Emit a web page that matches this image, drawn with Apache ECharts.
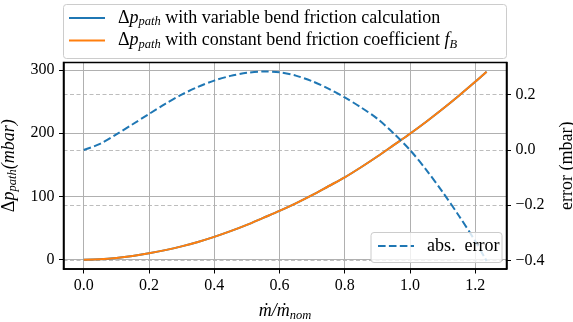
<!DOCTYPE html>
<html><head><meta charset="utf-8">
<script src="https://cdn.jsdelivr.net/npm/echarts@6/dist/echarts.min.js"></script>
<style>html,body{margin:0;padding:0;background:#fff}#c{width:573px;height:322px}</style>
</head><body><div id="c"></div>
<script>
// relative mass flow m/m_nom
const massFlowRatio = [0, 0.05, 0.1, 0.15, 0.2, 0.25, 0.3, 0.35, 0.4, 0.45, 0.5, 0.55, 0.6, 0.65, 0.7, 0.75, 0.8, 0.85, 0.9, 0.95, 1.0, 1.05, 1.1, 1.15, 1.2, 1.235];
// pressure drop with variable bend friction calculation (mbar)
const dpVariable = [0, 0.7, 2.7, 5.8, 10, 15, 21, 28, 36, 45, 55, 66, 77, 89, 102, 116, 130, 146, 163, 181, 199, 218, 238, 259, 281, 297];
// pressure drop with constant bend friction coefficient (mbar)
const dpConstant = [0, 0.7, 2.7, 5.8, 10, 15, 21, 28, 36, 45, 55, 66, 77, 89, 102, 116, 130, 146, 163, 181, 199, 218, 238, 259, 281, 297];
// absolute error (mbar)
const absError = [0.0, 0.022, 0.056, 0.093, 0.13, 0.167, 0.2, 0.228, 0.251, 0.268, 0.279, 0.284, 0.281, 0.269, 0.249, 0.222, 0.19, 0.154, 0.113, 0.06, 0.0, -0.072, -0.152, -0.238, -0.33, -0.402];

const seriesNames = ['dp_var', 'dp_const', 'abs. error'];

const F = 'Liberation Serif';
const rich = {
  n: {fontFamily: F, fontSize: 18, color: '#000', lineHeight: 21},
  d: {fontFamily: F, fontSize: 18, color: '#000', lineHeight: 21},
  i: {fontFamily: F, fontSize: 18, color: '#000', fontStyle: 'italic', lineHeight: 21},
  s: {fontFamily: F, fontSize: 12.5, color: '#000', fontStyle: 'italic', lineHeight: 13, verticalAlign: 'bottom'}
};
const zip = (xs, ys) => xs.map((x, k) => [x, ys[k]]);
const minusFmt = v => (v < 0 ? '\u2212' : '') + Math.abs(v).toFixed(1);

const GL = 63.5, GT = 62.5, GR = 66.5, GB = 53, W = 573, H = 322;

const chart = echarts.init(document.getElementById('c'), null, {renderer: 'canvas'});
chart.setOption({
  animation: false,
  backgroundColor: '#fff',
  grid: {left: GL, right: GR, top: GT, bottom: GB, show: false, containLabel: false, outerBoundsMode: 'none'},
  graphic: [
    {type: 'rect', z: 5, shape: {x: 63.5, y: 4.5, width: 443, height: 54, r: 3}, style: {fill: 'rgba(255,255,255,0.8)', stroke: '#cccccc', lineWidth: 1}},
    {type: 'rect', z: 5, shape: {x: 371, y: 232.5, width: 131, height: 30, r: 3}, style: {fill: 'rgba(255,255,255,0.8)', stroke: '#cccccc', lineWidth: 1}},
    {type: 'rect', z: 6, silent: true, shape: {x: GL, y: GT, width: W - GL - GR, height: H - GT - GB}, style: {fill: 'none', stroke: '#000', lineWidth: 1.5}}
  ],
  legend: [
    {
      data: [seriesNames[0], seriesNames[1]], orient: 'vertical', left: 68, top: 9, padding: 0,
      itemWidth: 36, itemHeight: 14, itemGap: 3, z: 10,
      itemStyle: {opacity: 0},
      formatter: name => name === seriesNames[0]
        ? '{d|\u0394}{i|p}{s|path}{n| with variable bend friction calculation}'
        : '{d|\u0394}{i|p}{s|path}{n| with constant bend friction coefficient }{i|f}{s|B}',
      textStyle: {rich: rich, padding: [0, 0, 0, 8]}
    },
    {
      data: [seriesNames[2]], orient: 'vertical', left: 377, top: 237, padding: 0,
      itemWidth: 36, itemHeight: 14, z: 10,
      itemStyle: {opacity: 0},
      formatter: () => '{n|abs.  error}',
      textStyle: {rich: rich, padding: [0, 0, 0, 8]}
    }
  ],
  xAxis: {
    type: 'value', min: -0.062, max: 1.296, splitNumber: 7,
    axisLine: {show: true, onZero: false, lineStyle: {color: '#000', width: 1.5}},
    axisTick: {show: true, length: 4.5, lineStyle: {color: '#000', width: 1}},
    axisLabel: {showMinLabel: false, showMaxLabel: false, formatter: v => v.toFixed(1), fontFamily: F, fontSize: 16, color: '#000', margin: 9},
    splitLine: {show: true, lineStyle: {color: '#b0b0b0', width: 1}},
    name: '{i|\u1E41/\u1E41}{s|nom}', nameLocation: 'middle', nameGap: 32,
    nameTextStyle: {rich: rich}
  },
  yAxis: [
    {
      type: 'value', position: 'left', min: -14.8, max: 311.6, splitNumber: 3,
      axisLine: {show: true, onZero: false, lineStyle: {color: '#000', width: 1.5}},
      axisTick: {show: true, length: 4.5, lineStyle: {color: '#000', width: 1}},
      axisLabel: {showMinLabel: false, showMaxLabel: false, fontFamily: F, fontSize: 16, color: '#000', margin: 9},
      splitLine: {show: true, lineStyle: {color: '#b0b0b0', width: 1}},
      name: '{d|\u0394}{i|p}{s|path}{i|(mbar)}', nameLocation: 'middle', nameRotate: 90, nameGap: 36,
      nameTextStyle: {rich: rich}
    },
    {
      type: 'value', position: 'right', min: -0.431, max: 0.3165, splitNumber: 4,
      axisLine: {show: true, onZero: false, lineStyle: {color: '#000', width: 1.5}},
      axisTick: {show: true, length: 4.5, lineStyle: {color: '#000', width: 1}},
      axisLabel: {showMinLabel: false, showMaxLabel: false, formatter: minusFmt, fontFamily: F, fontSize: 16, color: '#000', margin: 9},
      splitLine: {show: true, lineStyle: {color: '#bdbdbd', width: 1, type: [4, 2.5]}},
      name: 'error (mbar)', nameLocation: 'middle', nameRotate: 90, nameGap: 52,
      nameTextStyle: {fontFamily: F, fontSize: 18, color: '#000'}
    }
  ],
  series: [
    {name: seriesNames[0], type: 'line', yAxisIndex: 0, data: zip(massFlowRatio, dpVariable), smooth: 0.3, symbol: 'none', z: 2,
     lineStyle: {color: '#1f77b4', width: 2}, itemStyle: {color: '#1f77b4'}},
    {name: seriesNames[1], type: 'line', yAxisIndex: 0, data: zip(massFlowRatio, dpConstant), smooth: 0.3, symbol: 'none', z: 3,
     lineStyle: {color: '#ff7f0e', width: 2}, itemStyle: {color: '#ff7f0e'}},
    {name: seriesNames[2], type: 'line', yAxisIndex: 1, data: zip(massFlowRatio, absError), smooth: 0.3, symbol: 'none', z: 4,
     lineStyle: {color: '#1f77b4', width: 2, type: [7.6, 3.3]}, itemStyle: {color: '#1f77b4'}}
  ]
});
</script></body></html>
